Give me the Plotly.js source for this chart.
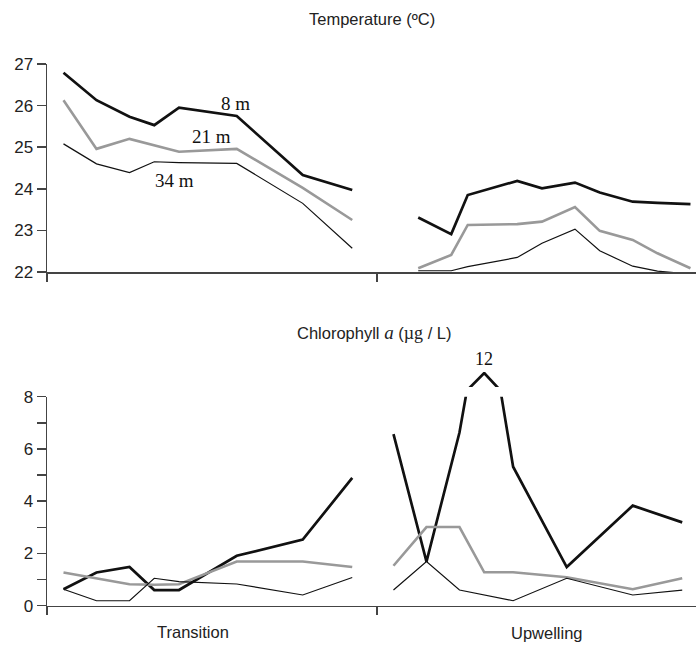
<!DOCTYPE html>
<html>
<head>
<meta charset="utf-8">
<script src="https://cdn.plot.ly/plotly-3.0.1.min.js"></script>
<style>html,body{margin:0;padding:0;background:#fff}#chart{width:696px;height:645px}</style>
</head>
<body>
<div id="chart"></div>
<script>
// ---- Data (x = sampling position along the cruise, arbitrary day units) ----
var xTransition = [2, 6, 10, 13, 16, 23, 31, 37];
var xUpwellTemp = [45, 49, 51, 57, 60, 64, 67, 71, 74, 78];
var xUpwellChl  = [42, 46, 50, 53, 56.5, 63, 71, 77];

var temp8Trans  = [26.79, 26.13, 25.73, 25.53, 25.95, 25.75, 24.33, 23.97];
var temp21Trans = [26.13, 24.96, 25.20, 25.04, 24.89, 24.96, 24.02, 23.25];
var temp34Trans = [25.08, 24.60, 24.39, 24.65, 24.63, 24.61, 23.65, 22.57];

var temp8Up  = [23.31, 22.91, 23.85, 24.19, 24.01, 24.15, 23.91, 23.69, 23.66, 23.63];
var temp21Up = [22.09, 22.41, 23.13, 23.15, 23.21, 23.56, 22.99, 22.77, 22.45, 22.09];
var temp34Up = [22.03, 22.03, 22.13, 22.35, 22.69, 23.03, 22.51, 22.14, 22.02, 21.95];

var chl8Trans  = [0.63, 1.27, 1.48, 0.60, 0.60, 1.91, 2.53, 4.89];
var chl21Trans = [1.27, 1.05, 0.82, 0.80, 0.82, 1.69, 1.69, 1.48];
var chl34Trans = [0.63, 0.19, 0.19, 1.05, 0.92, 0.83, 0.41, 1.08];

var chl8Up  = [6.57, 1.69, 6.63, 12, 5.32, 1.48, 3.83, 3.19];
var chl21Up = [1.53, 3.01, 3.01, 1.28, 1.28, 1.09, 0.63, 1.05];
var chl34Up = [0.60, 1.69, 0.60, 0.40, 0.19, 1.05, 0.41, 0.60];

var depthLabels = ['8 m', '21 m', '34 m'];
var regionLabels = ['Transition', 'Upwelling'];
var chlPeakLabel = '12';

// ---- Styles ----
var H = 645;
function py(p){ return 1 - p / H; }
var styles = {
  d8:  {color: '#111111', width: 2.7},
  d21: {color: '#999999', width: 2.6},
  d34: {color: '#111111', width: 1.2}
};
function tr(x, y, st, xa, ya){
  return {x: x, y: y, type: 'scatter', mode: 'lines', xaxis: xa, yaxis: ya,
          line: {color: st.color, width: st.width}, hoverinfo: 'skip', showlegend: false};
}
var traces = [
  tr(xTransition, temp8Trans,  styles.d8,  'x', 'y'),
  tr(xTransition, temp21Trans, styles.d21, 'x', 'y'),
  tr(xTransition, temp34Trans, styles.d34, 'x', 'y'),
  tr(xUpwellTemp, temp8Up,  styles.d8,  'x', 'y'),
  tr(xUpwellTemp, temp21Up, styles.d21, 'x', 'y'),
  tr(xUpwellTemp, temp34Up, styles.d34, 'x', 'y'),
  tr(xTransition, chl8Trans,  styles.d8,  'x2', 'y2'),
  tr(xTransition, chl21Trans, styles.d21, 'x2', 'y2'),
  tr(xTransition, chl34Trans, styles.d34, 'x2', 'y2'),
  tr(xUpwellChl, chl8Up,  styles.d8,  'x2', 'y2'),
  tr(xUpwellChl, chl21Up, styles.d21, 'x2', 'y2'),
  tr(xUpwellChl, chl34Up, styles.d34, 'x2', 'y2'),
  // broken-axis top segment for the chlorophyll peak
  tr(xUpwellChl, chl8Up,  styles.d8,  'x2', 'y3')
];

var sans = 'Liberation Sans, Arial, Helvetica, sans-serif';
var serif = 'Liberation Serif, Times New Roman, serif';
var axisColor = '#444444';
var xRange = [0, 78.67];
var xBase = {range: xRange, domain: [0, 1], showline: true, linecolor: axisColor, linewidth: 1.5,
  ticks: 'outside', ticklen: 8, tickwidth: 1.5, tickcolor: axisColor, tickvals: [0, 40],
  showticklabels: false, showgrid: false, zeroline: false, fixedrange: true};
var yBase = {showline: true, linecolor: axisColor, linewidth: 1.5, ticks: 'outside', ticklen: 9,
  tickwidth: 1.5, tickcolor: axisColor, showgrid: false, zeroline: false,
  tickfont: {family: sans, size: 17, color: '#222'}, fixedrange: true};

function ann(o){ return Object.assign({showarrow: false, xanchor: 'center', yanchor: 'middle'}, o); }

var layout = {
  width: 696, height: 645,
  margin: {l: 47, r: 0, t: 0, b: 0},
  paper_bgcolor: '#fff', plot_bgcolor: 'rgba(0,0,0,0)',
  showlegend: false,
  xaxis: Object.assign({}, xBase, {anchor: 'y'}),
  yaxis: Object.assign({}, yBase, {range: [22, 27], dtick: 1, domain: [py(272), py(64)], anchor: 'x'}),
  xaxis2: Object.assign({}, xBase, {anchor: 'y2'}),
  yaxis2: Object.assign({}, yBase, {range: [0, 8], dtick: 2, domain: [py(605.7), py(396.7)], anchor: 'x2',
    minor: {dtick: 1, ticks: 'outside', ticklen: 9, tickwidth: 1.5, tickcolor: axisColor}}),
  yaxis3: {range: [9, 12.2], domain: [py(387), py(372.1)], anchor: 'x2', showline: false,
    ticks: '', showticklabels: false, showgrid: false, zeroline: false, fixedrange: true},
  annotations: [
    ann({text: 'Temperature (ºC)', xref: 'paper', yref: 'paper', x: (372 - 47) / 649, y: py(19),
     font: {family: sans, size: 16.5, color: '#222'}}),
    ann({text: 'Chlorophyll <span style="font-family:Liberation Serif;font-style:italic;font-size:19px">a</span> (<span style="font-family:Liberation Serif;font-size:18px">µg</span> / L)',
     xref: 'paper', yref: 'paper', x: (374 - 47) / 649, y: py(332),
     font: {family: sans, size: 16.5, color: '#222'}}),
    ann({text: depthLabels[0], xref: 'x', yref: 'y', x: 22.8, y: 26.06,
     font: {family: serif, size: 19, color: '#111'}}),
    ann({text: depthLabels[1], xref: 'x', yref: 'y', x: 19.9, y: 25.25,
     font: {family: serif, size: 19, color: '#111'}}),
    ann({text: depthLabels[2], xref: 'x', yref: 'y', x: 15.4, y: 24.21,
     font: {family: serif, size: 19, color: '#111'}}),
    ann({text: chlPeakLabel, xref: 'x2', yref: 'y3', x: xUpwellChl[3], y: chl8Up[3], yanchor: 'bottom',
     yshift: 2, font: {family: serif, size: 18, color: '#111'}}),
    ann({text: regionLabels[0], xref: 'paper', yref: 'paper', x: (193 - 47) / 649, y: py(632),
     font: {family: sans, size: 16.5, color: '#222'}}),
    ann({text: regionLabels[1], xref: 'paper', yref: 'paper', x: (547 - 47) / 649, y: py(633),
     font: {family: sans, size: 16.5, color: '#222'}})
  ]
};

Plotly.newPlot('chart', traces, layout, {staticPlot: true, displayModeBar: false});
</script>
</body>
</html>
